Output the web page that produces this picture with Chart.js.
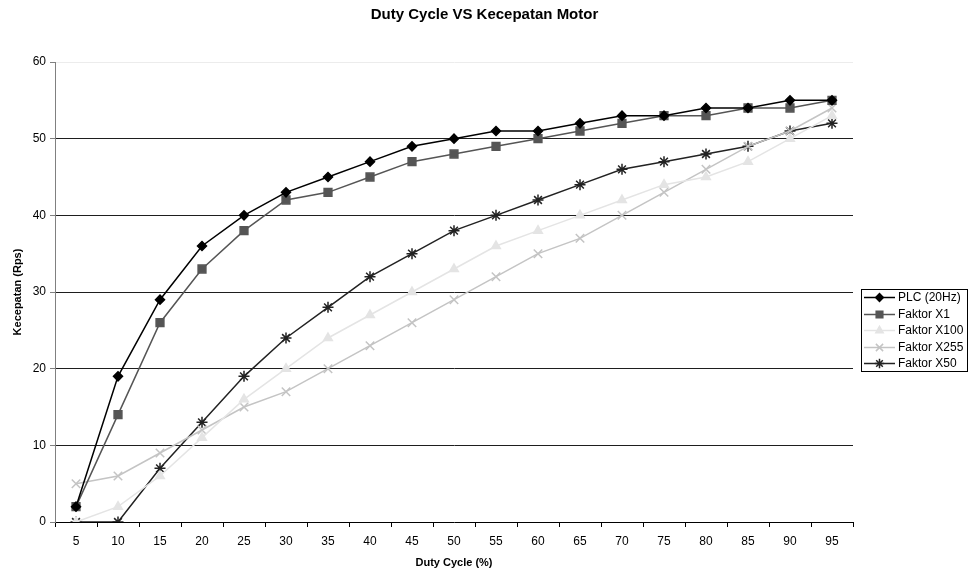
<!DOCTYPE html>
<html>
<head>
<meta charset="utf-8">
<script src="https://cdn.jsdelivr.net/npm/chart.js@4/dist/chart.umd.min.js"></script>
<style>
html,body{margin:0;padding:0;background:#fff;}
#wrap{width:969px;height:573px;}
</style>
</head>
<body>
<div id="wrap"><canvas id="c" width="969" height="573"></canvas></div>
<script>
const dutyCycle = ['5','10','15','20','25','30','35','40','45','50','55','60','65','70','75','80','85','90','95'];
const plc20Hz   = [2,19,29,36,40,43,45,47,49,50,51,51,52,53,53,54,54,55,55];
const faktorX1  = [2,14,26,33,38,42,43,45,47,48,49,50,51,52,53,53,54,54,55];
const faktorX100= [0,2,6,11,16,20,24,27,30,33,36,38,40,42,44,45,47,50,53];
const faktorX255= [5,6,9,12,15,17,20,23,26,29,32,35,37,40,43,46,49,51,54];
const faktorX50 = [0,0,7,13,19,24,28,32,35,38,40,42,44,46,47,48,49,51,52];
const seriesNames = ['PLC (20Hz)','Faktor X1','Faktor X100','Faktor X255','Faktor X50'];
const yTicks = [0,10,20,30,40,50,60];

const FONT = '"Liberation Sans", Arial, Helvetica, sans-serif';

const styles = [
  {color:'#000000', fill:'#000000', pointStyle:'rectRot', r:4.5},
  {color:'#555555', fill:'#555555', pointStyle:'rect', r:5.5},
  {color:'#e4e4e4', fill:'#e4e4e4', pointStyle:'triangle', r:5},
  {color:'#c4c4c4', fill:'#c4c4c4', pointStyle:'crossRot', r:6},
  {color:'#222222', fill:'#222222', pointStyle:'star', r:5.5}
];
const values = [plc20Hz, faktorX1, faktorX100, faktorX255, faktorX50];

const datasets = values.map((v,i)=>({
  label: seriesNames[i],
  data: v,
  borderColor: styles[i].color,
  backgroundColor: styles[i].fill,
  borderWidth: 1.5,
  pointStyle: styles[i].pointStyle,
  pointRadius: styles[i].r,
  pointBorderWidth: 1.5,
  pointBorderColor: styles[i].color,
  pointBackgroundColor: styles[i].fill,
  tension: 0,
  fill: false
}));

const legendPlugin = {
  id: 'boxLegend',
  afterDraw(chart){
    const ctx = chart.ctx;
    const x0 = 861, y0 = 289, w = 106, h = 82;
    ctx.save();
    ctx.strokeStyle = '#000';
    ctx.lineWidth = 1;
    ctx.strokeRect(x0+0.5, y0+0.5, w, h);
    ctx.font = '12px ' + FONT;
    ctx.textBaseline = 'middle';
    chart.data.datasets.forEach((ds, i) => {
      const y = Math.round(297 + i*16.6) + 0.5;
      ctx.strokeStyle = ds.borderColor;
      ctx.lineWidth = 1.5;
      ctx.beginPath();
      ctx.moveTo(864, y); ctx.lineTo(895, y);
      ctx.stroke();
      ctx.fillStyle = ds.pointBackgroundColor;
      ctx.strokeStyle = ds.pointBorderColor;
      ctx.lineWidth = 1.5;
      Chart.helpers.drawPoint(ctx, {
        pointStyle: ds.pointStyle,
        radius: ds.pointRadius * 0.85,
        borderWidth: 1.5,
        rotation: 0
      }, 879.5, y);
      ctx.fillStyle = '#000';
      ctx.fillText(ds.label, 898, y + 0.5);
    });
    ctx.restore();
  }
};

new Chart(document.getElementById('c'), {
  type: 'line',
  data: { labels: dutyCycle, datasets },
  plugins: [legendPlugin],
  options: {
    responsive: false,
    animation: false,
    devicePixelRatio: 1,
    layout: { padding: { left: 0, right: 0, top: 0, bottom: 0 } },
    plugins: {
      legend: { display: false },
      tooltip: { enabled: false },
      title: {
        display: true,
        text: 'Duty Cycle VS Kecepatan Motor',
        color: '#000',
        font: { family: FONT, size: 15, weight: 'bold' },
        padding: { top: 6, bottom: 38 }
      }
    },
    scales: {
      x: {
        type: 'category',
        offset: true,
        afterFit(scale){ scale.height = 51; },
        grid: { display: true, drawOnChartArea: false, drawTicks: true, tickLength: 5, offset: true, color: '#000', tickColor: '#000' },
        border: { display: true, color: '#000', width: 1 },
        ticks: { color: '#000', font: { family: FONT, size: 12 }, padding: 7, maxRotation: 0, autoSkip: false },
        title: { display: true, text: 'Duty Cycle (%)', color: '#000', font: { family: FONT, size: 11, weight: 'bold' }, padding: { top: 4, bottom: 3 } }
      },
      y: {
        min: 0, max: 60,
        afterFit(scale){ scale.width = 55; },
        afterBuildTicks(scale){ scale.ticks = yTicks.map(v => ({value: v})); },
        grid: {
          drawTicks: true, tickLength: 5,
          color: (c) => (c.tick && c.tick.value === 60) ? '#ececec' : (c.tick && c.tick.value === 0 ? 'rgba(0,0,0,0)' : '#1e1e1e'),
          tickColor: '#808080',
          lineWidth: 1
        },
        border: { display: true, color: '#808080', width: 1 },
        ticks: { color: '#000', font: { family: FONT, size: 12 }, padding: 4 },
        title: { display: true, text: 'Kecepatan (Rps)', color: '#000', font: { family: FONT, size: 11, weight: 'bold' }, padding: { top: 11, bottom: 0 } }
      },
      yRight: {
        position: 'right',
        display: true,
        min: 0, max: 60,
        afterFit(scale){ scale.width = 116; },
        grid: { display: false, drawOnChartArea: false, drawTicks: false },
        border: { display: false },
        ticks: { display: false }
      }
    }
  }
});
</script>
</body>
</html>
